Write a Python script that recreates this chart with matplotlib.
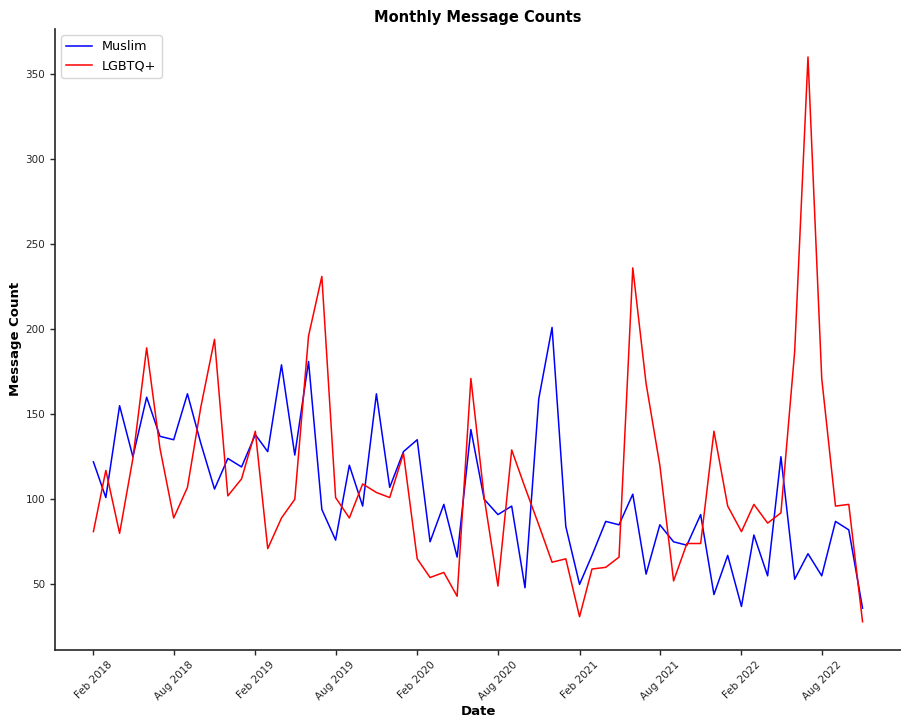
import matplotlib
matplotlib.use("Agg")
import matplotlib.pyplot as plt
import matplotlib.dates as mdates
import pandas as pd

dates = pd.date_range("2018-02-01", periods=58, freq="MS")

muslim = [122, 101, 155, 125, 160, 137, 135, 162, 133, 106,
          124, 119, 138, 128, 179, 126, 181, 94, 76, 120,
          96, 162, 107, 128, 135, 75, 97, 66, 141, 100,
          91, 96, 48, 159, 201, 84, 50, 67, 87, 85,
          103, 56, 85, 75, 73, 91, 44, 67, 37, 79,
          55, 125, 53, 68, 55, 87, 82, 36]

lgbtq = [81, 117, 80, 124, 189, 130, 89, 107, 154, 194,
         102, 112, 140, 71, 89, 100, 196, 231, 101, 89,
         109, 104, 101, 127, 65, 54, 57, 43, 171, 101,
         49, 129, 107, 85, 63, 65, 31, 59, 60, 66,
         236, 168, 120, 52, 74, 74, 140, 96, 81, 97,
         86, 92, 187, 360, 171, 96, 97, 28]

dark = "#262626"
plt.rcParams["font.family"] = "DejaVu Sans"

fig = plt.figure(figsize=(9.01, 7.18), dpi=100)
ax = fig.add_axes([0.061, 0.0947, 0.939, 0.8653])

ax.plot(dates, muslim, color="blue", linewidth=1.1, label="Muslim")
ax.plot(dates, lgbtq, color="red", linewidth=1.1, label="LGBTQ+")

ax.xaxis.set_major_locator(mdates.MonthLocator(bymonth=(2, 8)))
ax.xaxis.set_major_formatter(mdates.DateFormatter("%b %Y"))
for lbl in ax.get_xticklabels():
    lbl.set_rotation(45)
    lbl.set_ha("center")

ax.set_yticks([50, 100, 150, 200, 250, 300, 350])
ax.tick_params(axis="both", labelsize=7.5, colors=dark, length=3.5, width=1)

for s in ["top", "right"]:
    ax.spines[s].set_visible(False)
for s in ["left", "bottom"]:
    ax.spines[s].set_color(dark)
    ax.spines[s].set_linewidth(1.2)

ax.set_title("Monthly Message Counts", fontsize=10.5, fontweight="bold", color="black", pad=4.5)
ax.set_xlabel("Date", fontsize=9.5, fontweight="bold", color="black", labelpad=2)
ax.set_ylabel("Message Count", fontsize=9.5, fontweight="bold", color="black", labelpad=2.5)

ax.legend(loc="upper left", fontsize=9.2, frameon=True, framealpha=0.8, edgecolor="#cccccc")

fig.savefig("out.png", dpi=100)
